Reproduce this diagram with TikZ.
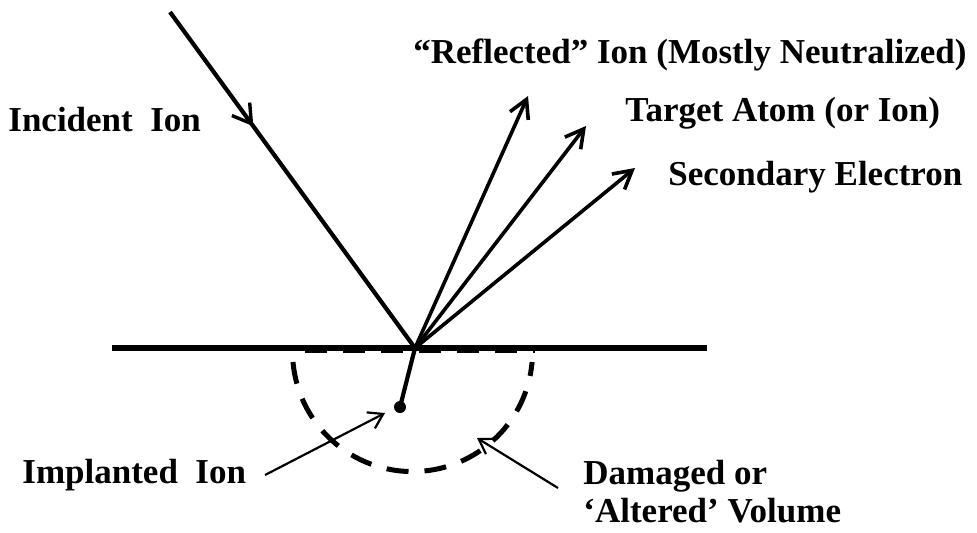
\documentclass[tikz,border=0pt]{standalone}
\usepackage{fontspec}
\setmainfont{Liberation Serif}
\usetikzlibrary{arrows.meta, positioning, decorations.markings}

\begin{document}
\begin{tikzpicture}[
        x=0.5pt, y=-0.5pt,
        label/.style={font=\fontsize{17.5}{19}\selectfont\bfseries, inner sep=0pt, align=left},
        surface/.style={line width=2.9pt},
        beam/.style={line width=2.1pt},
        outgoing/.style={-{Straight Barb[length=9pt, width=10pt, line width=1.8pt]}, line width=1.8pt},
        pointer/.style={-{Straight Barb[length=7pt, width=9pt]}, line width=1.1pt},
        damage/.style={line width=2.5pt, dash pattern=on 11pt off 8pt}
    ]
        \useasboundingbox (0,0) rectangle (977,532);
        % impact point and ends of the tracks
        \coordinate (o) at (415,348);
        \coordinate (src) at (170,12);
        \coordinate (refl) at (528,96);
        \coordinate (targ) at (586,126);
        \coordinate (sec) at (635,168);
        \coordinate (stop) at (400,407);
        % damaged volume, its top edge mostly under the surface
        \draw[damage] (305,350.5) -- (535,350.5);
        \draw[damage] (293,362) arc[start angle=175, end angle=5, x radius=120, y radius=120];
        \draw[surface] (112,348) -- (707,348);
        \draw[beam, postaction={decorate}, decoration={markings,
            mark=at position 0.34 with {\arrow{Straight Barb[length=9pt, width=11pt, line width=1.7pt]}}}]
            (src) -- (o);
        \draw[outgoing] (o) -- (refl);
        \draw[outgoing] (o) -- (targ);
        \draw[outgoing] (o) -- (sec);
        \draw[beam] (o) -- (stop);
        \fill (stop) circle (6);
        % labels
        \node[label, anchor=west] (inc) at (8,120) {Incident\ \ Ion};
        \node[label, anchor=west] (rlab) at (413,55) {``Reflected'' Ion (Mostly Neutralized)};
        \node[label, anchor=west] (tlab) at (625,113) {Target Atom (or Ion)};
        \node[label, anchor=west] (slab) at (668,177) {Secondary Electron};
        \node[label, anchor=west] (impl) at (22,475) {Implanted\ \ Ion};
        \node[label, anchor=base west] (dam) at (583,522) {Damaged or\\`Altered' Volume};
        \coordinate (ip) at (265,475);
        \coordinate (dp) at (558,488);
        \draw[pointer] (ip) -- (385,413);
        \draw[pointer] (dp) -- (477,438);
\end{tikzpicture}
\end{document}
